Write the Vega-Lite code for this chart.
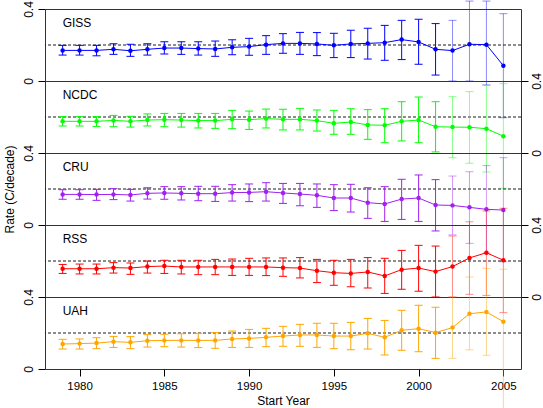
{
  "$schema": "https://vega.github.io/schema/vega-lite/v6.json",
  "padding": {"left": 2, "top": 0, "right": 0, "bottom": 0},
  "autosize": {"type": "pad"},
  "background": "white",
  "spacing": 0,
  "bounds": "flush",
  "config": {
    "view": {"stroke": "#333333", "strokeWidth": 1},
    "axis": {"labelFont": "Liberation Sans", "labelFontSize": 12, "labelColor": "black", "tickColor": "black", "titleFont": "Liberation Sans", "titleFontSize": 12, "titleFontWeight": "normal", "titleColor": "black", "grid": false, "domain": false, "tickSize": 7, "labelFlush": false, "labelOverlap": false},
    "text": {"font": "Liberation Sans"}
  },
  "datasets": {
    "temps": [
      {"series":"GISS","year":1979,"rate":0.170,"lo":0.144,"hi":0.198},
      {"series":"GISS","year":1980,"rate":0.170,"lo":0.144,"hi":0.198},
      {"series":"GISS","year":1981,"rate":0.170,"lo":0.140,"hi":0.198},
      {"series":"GISS","year":1982,"rate":0.176,"lo":0.148,"hi":0.207},
      {"series":"GISS","year":1983,"rate":0.168,"lo":0.137,"hi":0.204},
      {"series":"GISS","year":1984,"rate":0.176,"lo":0.144,"hi":0.207},
      {"series":"GISS","year":1985,"rate":0.183,"lo":0.150,"hi":0.218},
      {"series":"GISS","year":1986,"rate":0.183,"lo":0.148,"hi":0.218},
      {"series":"GISS","year":1987,"rate":0.180,"lo":0.144,"hi":0.218},
      {"series":"GISS","year":1988,"rate":0.178,"lo":0.137,"hi":0.222},
      {"series":"GISS","year":1989,"rate":0.187,"lo":0.146,"hi":0.229},
      {"series":"GISS","year":1990,"rate":0.191,"lo":0.143,"hi":0.237},
      {"series":"GISS","year":1991,"rate":0.202,"lo":0.148,"hi":0.252},
      {"series":"GISS","year":1992,"rate":0.209,"lo":0.154,"hi":0.263},
      {"series":"GISS","year":1993,"rate":0.209,"lo":0.148,"hi":0.270},
      {"series":"GISS","year":1994,"rate":0.206,"lo":0.141,"hi":0.269},
      {"series":"GISS","year":1995,"rate":0.198,"lo":0.130,"hi":0.265},
      {"series":"GISS","year":1996,"rate":0.206,"lo":0.130,"hi":0.282},
      {"series":"GISS","year":1997,"rate":0.209,"lo":0.122,"hi":0.293},
      {"series":"GISS","year":1998,"rate":0.213,"lo":0.115,"hi":0.309},
      {"series":"GISS","year":1999,"rate":0.230,"lo":0.119,"hi":0.337},
      {"series":"GISS","year":2000,"rate":0.217,"lo":0.093,"hi":0.343},
      {"series":"GISS","year":2001,"rate":0.176,"lo":0.033,"hi":0.319},
      {"series":"GISS","year":2002,"rate":0.169,"lo":0.000,"hi":0.337},
      {"series":"GISS","year":2003,"rate":0.204,"lo":0.000,"hi":0.444},
      {"series":"GISS","year":2004,"rate":0.202,"lo":-0.022,"hi":0.444},
      {"series":"GISS","year":2005,"rate":0.085,"lo":-0.204,"hi":0.374},
      {"series":"NCDC","year":1979,"rate":0.176,"lo":0.150,"hi":0.202},
      {"series":"NCDC","year":1980,"rate":0.176,"lo":0.150,"hi":0.202},
      {"series":"NCDC","year":1981,"rate":0.176,"lo":0.148,"hi":0.202},
      {"series":"NCDC","year":1982,"rate":0.181,"lo":0.146,"hi":0.209},
      {"series":"NCDC","year":1983,"rate":0.176,"lo":0.144,"hi":0.204},
      {"series":"NCDC","year":1984,"rate":0.183,"lo":0.150,"hi":0.217},
      {"series":"NCDC","year":1985,"rate":0.185,"lo":0.146,"hi":0.220},
      {"series":"NCDC","year":1986,"rate":0.183,"lo":0.144,"hi":0.220},
      {"series":"NCDC","year":1987,"rate":0.180,"lo":0.139,"hi":0.220},
      {"series":"NCDC","year":1988,"rate":0.180,"lo":0.137,"hi":0.220},
      {"series":"NCDC","year":1989,"rate":0.187,"lo":0.135,"hi":0.237},
      {"series":"NCDC","year":1990,"rate":0.185,"lo":0.131,"hi":0.233},
      {"series":"NCDC","year":1991,"rate":0.191,"lo":0.139,"hi":0.244},
      {"series":"NCDC","year":1992,"rate":0.187,"lo":0.128,"hi":0.243},
      {"series":"NCDC","year":1993,"rate":0.187,"lo":0.128,"hi":0.248},
      {"series":"NCDC","year":1994,"rate":0.180,"lo":0.122,"hi":0.239},
      {"series":"NCDC","year":1995,"rate":0.165,"lo":0.104,"hi":0.237},
      {"series":"NCDC","year":1996,"rate":0.172,"lo":0.104,"hi":0.246},
      {"series":"NCDC","year":1997,"rate":0.156,"lo":0.076,"hi":0.241},
      {"series":"NCDC","year":1998,"rate":0.154,"lo":0.057,"hi":0.246},
      {"series":"NCDC","year":1999,"rate":0.176,"lo":0.067,"hi":0.285},
      {"series":"NCDC","year":2000,"rate":0.183,"lo":0.057,"hi":0.311},
      {"series":"NCDC","year":2001,"rate":0.146,"lo":0.006,"hi":0.285},
      {"series":"NCDC","year":2002,"rate":0.144,"lo":-0.026,"hi":0.313},
      {"series":"NCDC","year":2003,"rate":0.143,"lo":-0.057,"hi":0.341},
      {"series":"NCDC","year":2004,"rate":0.135,"lo":-0.106,"hi":0.376},
      {"series":"NCDC","year":2005,"rate":0.093,"lo":-0.196,"hi":0.385},
      {"series":"CRU","year":1979,"rate":0.170,"lo":0.143,"hi":0.196},
      {"series":"CRU","year":1980,"rate":0.170,"lo":0.143,"hi":0.196},
      {"series":"CRU","year":1981,"rate":0.169,"lo":0.137,"hi":0.198},
      {"series":"CRU","year":1982,"rate":0.170,"lo":0.141,"hi":0.202},
      {"series":"CRU","year":1983,"rate":0.167,"lo":0.133,"hi":0.198},
      {"series":"CRU","year":1984,"rate":0.176,"lo":0.144,"hi":0.207},
      {"series":"CRU","year":1985,"rate":0.178,"lo":0.143,"hi":0.213},
      {"series":"CRU","year":1986,"rate":0.176,"lo":0.139,"hi":0.213},
      {"series":"CRU","year":1987,"rate":0.174,"lo":0.135,"hi":0.215},
      {"series":"CRU","year":1988,"rate":0.174,"lo":0.131,"hi":0.215},
      {"series":"CRU","year":1989,"rate":0.180,"lo":0.133,"hi":0.224},
      {"series":"CRU","year":1990,"rate":0.181,"lo":0.130,"hi":0.228},
      {"series":"CRU","year":1991,"rate":0.185,"lo":0.133,"hi":0.235},
      {"series":"CRU","year":1992,"rate":0.178,"lo":0.120,"hi":0.231},
      {"series":"CRU","year":1993,"rate":0.172,"lo":0.107,"hi":0.231},
      {"series":"CRU","year":1994,"rate":0.165,"lo":0.098,"hi":0.228},
      {"series":"CRU","year":1995,"rate":0.150,"lo":0.080,"hi":0.224},
      {"series":"CRU","year":1996,"rate":0.150,"lo":0.072,"hi":0.226},
      {"series":"CRU","year":1997,"rate":0.124,"lo":0.037,"hi":0.207},
      {"series":"CRU","year":1998,"rate":0.117,"lo":0.020,"hi":0.213},
      {"series":"CRU","year":1999,"rate":0.144,"lo":0.031,"hi":0.254},
      {"series":"CRU","year":2000,"rate":0.150,"lo":0.020,"hi":0.278},
      {"series":"CRU","year":2001,"rate":0.111,"lo":-0.033,"hi":0.252},
      {"series":"CRU","year":2002,"rate":0.109,"lo":-0.055,"hi":0.272},
      {"series":"CRU","year":2003,"rate":0.098,"lo":-0.102,"hi":0.296},
      {"series":"CRU","year":2004,"rate":0.087,"lo":-0.156,"hi":0.330},
      {"series":"CRU","year":2005,"rate":0.083,"lo":-0.204,"hi":0.374},
      {"series":"RSS","year":1979,"rate":0.157,"lo":0.131,"hi":0.181},
      {"series":"RSS","year":1980,"rate":0.157,"lo":0.128,"hi":0.183},
      {"series":"RSS","year":1981,"rate":0.157,"lo":0.128,"hi":0.183},
      {"series":"RSS","year":1982,"rate":0.163,"lo":0.133,"hi":0.191},
      {"series":"RSS","year":1983,"rate":0.161,"lo":0.126,"hi":0.189},
      {"series":"RSS","year":1984,"rate":0.169,"lo":0.133,"hi":0.200},
      {"series":"RSS","year":1985,"rate":0.172,"lo":0.131,"hi":0.204},
      {"series":"RSS","year":1986,"rate":0.167,"lo":0.128,"hi":0.204},
      {"series":"RSS","year":1987,"rate":0.167,"lo":0.124,"hi":0.204},
      {"series":"RSS","year":1988,"rate":0.167,"lo":0.124,"hi":0.209},
      {"series":"RSS","year":1989,"rate":0.167,"lo":0.120,"hi":0.211},
      {"series":"RSS","year":1990,"rate":0.167,"lo":0.120,"hi":0.215},
      {"series":"RSS","year":1991,"rate":0.167,"lo":0.119,"hi":0.217},
      {"series":"RSS","year":1992,"rate":0.163,"lo":0.115,"hi":0.217},
      {"series":"RSS","year":1993,"rate":0.161,"lo":0.106,"hi":0.219},
      {"series":"RSS","year":1994,"rate":0.146,"lo":0.080,"hi":0.209},
      {"series":"RSS","year":1995,"rate":0.135,"lo":0.065,"hi":0.204},
      {"series":"RSS","year":1996,"rate":0.131,"lo":0.057,"hi":0.209},
      {"series":"RSS","year":1997,"rate":0.139,"lo":0.050,"hi":0.219},
      {"series":"RSS","year":1998,"rate":0.117,"lo":0.020,"hi":0.215},
      {"series":"RSS","year":1999,"rate":0.152,"lo":0.043,"hi":0.259},
      {"series":"RSS","year":2000,"rate":0.161,"lo":0.032,"hi":0.287},
      {"series":"RSS","year":2001,"rate":0.141,"lo":0.000,"hi":0.283},
      {"series":"RSS","year":2002,"rate":0.169,"lo":0.000,"hi":0.339},
      {"series":"RSS","year":2003,"rate":0.217,"lo":0.015,"hi":0.418},
      {"series":"RSS","year":2004,"rate":0.246,"lo":0.009,"hi":0.478},
      {"series":"RSS","year":2005,"rate":0.204,"lo":-0.087,"hi":0.493},
      {"series":"UAH","year":1979,"rate":0.139,"lo":0.111,"hi":0.165},
      {"series":"UAH","year":1980,"rate":0.141,"lo":0.111,"hi":0.167},
      {"series":"UAH","year":1981,"rate":0.144,"lo":0.113,"hi":0.174},
      {"series":"UAH","year":1982,"rate":0.152,"lo":0.120,"hi":0.181},
      {"series":"UAH","year":1983,"rate":0.148,"lo":0.113,"hi":0.180},
      {"series":"UAH","year":1984,"rate":0.157,"lo":0.122,"hi":0.191},
      {"series":"UAH","year":1985,"rate":0.159,"lo":0.124,"hi":0.193},
      {"series":"UAH","year":1986,"rate":0.159,"lo":0.122,"hi":0.196},
      {"series":"UAH","year":1987,"rate":0.159,"lo":0.119,"hi":0.198},
      {"series":"UAH","year":1988,"rate":0.159,"lo":0.115,"hi":0.202},
      {"series":"UAH","year":1989,"rate":0.167,"lo":0.120,"hi":0.211},
      {"series":"UAH","year":1990,"rate":0.170,"lo":0.120,"hi":0.220},
      {"series":"UAH","year":1991,"rate":0.176,"lo":0.124,"hi":0.226},
      {"series":"UAH","year":1992,"rate":0.183,"lo":0.126,"hi":0.237},
      {"series":"UAH","year":1993,"rate":0.189,"lo":0.126,"hi":0.248},
      {"series":"UAH","year":1994,"rate":0.189,"lo":0.120,"hi":0.254},
      {"series":"UAH","year":1995,"rate":0.183,"lo":0.113,"hi":0.254},
      {"series":"UAH","year":1996,"rate":0.183,"lo":0.107,"hi":0.259},
      {"series":"UAH","year":1997,"rate":0.198,"lo":0.111,"hi":0.281},
      {"series":"UAH","year":1998,"rate":0.176,"lo":0.078,"hi":0.270},
      {"series":"UAH","year":1999,"rate":0.215,"lo":0.104,"hi":0.326},
      {"series":"UAH","year":2000,"rate":0.224,"lo":0.096,"hi":0.354},
      {"series":"UAH","year":2001,"rate":0.202,"lo":0.059,"hi":0.343},
      {"series":"UAH","year":2002,"rate":0.230,"lo":0.059,"hi":0.400},
      {"series":"UAH","year":2003,"rate":0.307,"lo":0.106,"hi":0.511},
      {"series":"UAH","year":2004,"rate":0.317,"lo":0.076,"hi":0.559},
      {"series":"UAH","year":2005,"rate":0.263,"lo":-0.222,"hi":0.554}
    ]
  },
  "vconcat": [
    {
      "width": 476, "height": 72,
      "data": {"name": "temps"},
      "transform": [{"filter": "datum.series == 'GISS'"}],
      "layer": [
        {"data": {"values": [{"reference": 0.2}]}, "mark": {"type": "rule", "strokeDash": [3, 2], "color": "black", "strokeWidth": 0.9}, "encoding": {"y": {"field": "reference", "type": "quantitative", "scale": {"domain": [0, 0.4], "nice": false, "zero": false}, "axis": {"orient": "left", "values": [0, 0.1, 0.2, 0.3, 0.4], "labelExpr": "datum.value == 0.1 || datum.value == 0.3 ? '' : format(datum.value, '~g')", "labelAngle": -90, "labelAlign": "center", "labelBaseline": "bottom", "labelPadding": 3, "title": null}}}},
        {"mark": {"type": "rule", "color": "#0000FF", "strokeWidth": 1}, "encoding": {"x": {"field": "year", "type": "quantitative", "scale": {"domain": [1977.96, 2006.04], "nice": false, "zero": false}, "axis": null}, "y": {"field": "lo", "type": "quantitative"}, "y2": {"field": "hi"}, "opacity": {"condition": {"test": "datum.year >= 2002", "value": 0.45}, "value": 1}}},
        {"mark": {"type": "tick", "orient": "horizontal", "size": 8, "thickness": 1, "color": "#0000FF"}, "encoding": {"x": {"field": "year", "type": "quantitative"}, "y": {"field": "lo", "type": "quantitative"}, "opacity": {"condition": {"test": "datum.year >= 2002", "value": 0.45}, "value": 1}}},
        {"mark": {"type": "tick", "orient": "horizontal", "size": 8, "thickness": 1, "color": "#0000FF"}, "encoding": {"x": {"field": "year", "type": "quantitative"}, "y": {"field": "hi", "type": "quantitative"}, "opacity": {"condition": {"test": "datum.year >= 2002", "value": 0.45}, "value": 1}}},
        {"mark": {"type": "line", "color": "#0000FF", "strokeWidth": 1}, "encoding": {"x": {"field": "year", "type": "quantitative"}, "y": {"field": "rate", "type": "quantitative"}}},
        {"mark": {"type": "circle", "color": "#0000FF", "size": 20, "opacity": 1}, "encoding": {"x": {"field": "year", "type": "quantitative"}, "y": {"field": "rate", "type": "quantitative"}}},
        {"data": {"values": [{"name": "GISS"}]}, "mark": {"type": "text", "align": "left", "baseline": "middle", "fontSize": 12, "color": "black"}, "encoding": {"x": {"datum": 1979}, "y": {"datum": 0.32}, "text": {"field": "name"}}}
      ]
    },
    {
      "width": 476, "height": 72,
      "data": {"name": "temps"},
      "transform": [{"filter": "datum.series == 'NCDC'"}],
      "layer": [
        {"data": {"values": [{"reference": 0.2}]}, "mark": {"type": "rule", "strokeDash": [3, 2], "color": "black", "strokeWidth": 0.9}, "encoding": {"y": {"field": "reference", "type": "quantitative", "scale": {"domain": [0, 0.4], "nice": false, "zero": false}, "axis": {"orient": "right", "values": [0, 0.1, 0.2, 0.3, 0.4], "labelExpr": "datum.value == 0.1 || datum.value == 0.3 ? '' : format(datum.value, '~g')", "labelAngle": -90, "labelAlign": "center", "labelBaseline": "top", "labelPadding": 3, "title": null}}}},
        {"mark": {"type": "rule", "color": "#00FF00", "strokeWidth": 1}, "encoding": {"x": {"field": "year", "type": "quantitative", "scale": {"domain": [1977.96, 2006.04], "nice": false, "zero": false}, "axis": null}, "y": {"field": "lo", "type": "quantitative"}, "y2": {"field": "hi"}, "opacity": {"condition": {"test": "datum.year >= 2002", "value": 0.45}, "value": 1}}},
        {"mark": {"type": "tick", "orient": "horizontal", "size": 8, "thickness": 1, "color": "#00FF00"}, "encoding": {"x": {"field": "year", "type": "quantitative"}, "y": {"field": "lo", "type": "quantitative"}, "opacity": {"condition": {"test": "datum.year >= 2002", "value": 0.45}, "value": 1}}},
        {"mark": {"type": "tick", "orient": "horizontal", "size": 8, "thickness": 1, "color": "#00FF00"}, "encoding": {"x": {"field": "year", "type": "quantitative"}, "y": {"field": "hi", "type": "quantitative"}, "opacity": {"condition": {"test": "datum.year >= 2002", "value": 0.45}, "value": 1}}},
        {"mark": {"type": "line", "color": "#00FF00", "strokeWidth": 1}, "encoding": {"x": {"field": "year", "type": "quantitative"}, "y": {"field": "rate", "type": "quantitative"}}},
        {"mark": {"type": "circle", "color": "#00FF00", "size": 20, "opacity": 1}, "encoding": {"x": {"field": "year", "type": "quantitative"}, "y": {"field": "rate", "type": "quantitative"}}},
        {"data": {"values": [{"name": "NCDC"}]}, "mark": {"type": "text", "align": "left", "baseline": "middle", "fontSize": 12, "color": "black"}, "encoding": {"x": {"datum": 1979}, "y": {"datum": 0.32}, "text": {"field": "name"}}}
      ]
    },
    {
      "width": 476, "height": 72,
      "data": {"name": "temps"},
      "transform": [{"filter": "datum.series == 'CRU'"}],
      "layer": [
        {"data": {"values": [{"reference": 0.2}]}, "mark": {"type": "rule", "strokeDash": [3, 2], "color": "black", "strokeWidth": 0.9}, "encoding": {"y": {"field": "reference", "type": "quantitative", "scale": {"domain": [0, 0.4], "nice": false, "zero": false}, "axis": {"orient": "left", "values": [0, 0.1, 0.2, 0.3, 0.4], "labelExpr": "datum.value == 0.1 || datum.value == 0.3 ? '' : format(datum.value, '~g')", "labelAngle": -90, "labelAlign": "center", "labelBaseline": "bottom", "labelPadding": 3, "title": "Rate (C/decade)", "titlePadding": 6}}}},
        {"mark": {"type": "rule", "color": "#A020F0", "strokeWidth": 1}, "encoding": {"x": {"field": "year", "type": "quantitative", "scale": {"domain": [1977.96, 2006.04], "nice": false, "zero": false}, "axis": null}, "y": {"field": "lo", "type": "quantitative"}, "y2": {"field": "hi"}, "opacity": {"condition": {"test": "datum.year >= 2002", "value": 0.45}, "value": 1}}},
        {"mark": {"type": "tick", "orient": "horizontal", "size": 8, "thickness": 1, "color": "#A020F0"}, "encoding": {"x": {"field": "year", "type": "quantitative"}, "y": {"field": "lo", "type": "quantitative"}, "opacity": {"condition": {"test": "datum.year >= 2002", "value": 0.45}, "value": 1}}},
        {"mark": {"type": "tick", "orient": "horizontal", "size": 8, "thickness": 1, "color": "#A020F0"}, "encoding": {"x": {"field": "year", "type": "quantitative"}, "y": {"field": "hi", "type": "quantitative"}, "opacity": {"condition": {"test": "datum.year >= 2002", "value": 0.45}, "value": 1}}},
        {"mark": {"type": "line", "color": "#A020F0", "strokeWidth": 1}, "encoding": {"x": {"field": "year", "type": "quantitative"}, "y": {"field": "rate", "type": "quantitative"}}},
        {"mark": {"type": "circle", "color": "#A020F0", "size": 20, "opacity": 1}, "encoding": {"x": {"field": "year", "type": "quantitative"}, "y": {"field": "rate", "type": "quantitative"}}},
        {"data": {"values": [{"name": "CRU"}]}, "mark": {"type": "text", "align": "left", "baseline": "middle", "fontSize": 12, "color": "black"}, "encoding": {"x": {"datum": 1979}, "y": {"datum": 0.32}, "text": {"field": "name"}}}
      ]
    },
    {
      "width": 476, "height": 72,
      "data": {"name": "temps"},
      "transform": [{"filter": "datum.series == 'RSS'"}],
      "layer": [
        {"data": {"values": [{"reference": 0.2}]}, "mark": {"type": "rule", "strokeDash": [3, 2], "color": "black", "strokeWidth": 0.9}, "encoding": {"y": {"field": "reference", "type": "quantitative", "scale": {"domain": [0, 0.4], "nice": false, "zero": false}, "axis": {"orient": "right", "values": [0, 0.1, 0.2, 0.3, 0.4], "labelExpr": "datum.value == 0.1 || datum.value == 0.3 ? '' : format(datum.value, '~g')", "labelAngle": -90, "labelAlign": "center", "labelBaseline": "top", "labelPadding": 3, "title": null}}}},
        {"mark": {"type": "rule", "color": "#FF0000", "strokeWidth": 1}, "encoding": {"x": {"field": "year", "type": "quantitative", "scale": {"domain": [1977.96, 2006.04], "nice": false, "zero": false}, "axis": null}, "y": {"field": "lo", "type": "quantitative"}, "y2": {"field": "hi"}, "opacity": {"condition": {"test": "datum.year >= 2002", "value": 0.45}, "value": 1}}},
        {"mark": {"type": "tick", "orient": "horizontal", "size": 8, "thickness": 1, "color": "#FF0000"}, "encoding": {"x": {"field": "year", "type": "quantitative"}, "y": {"field": "lo", "type": "quantitative"}, "opacity": {"condition": {"test": "datum.year >= 2002", "value": 0.45}, "value": 1}}},
        {"mark": {"type": "tick", "orient": "horizontal", "size": 8, "thickness": 1, "color": "#FF0000"}, "encoding": {"x": {"field": "year", "type": "quantitative"}, "y": {"field": "hi", "type": "quantitative"}, "opacity": {"condition": {"test": "datum.year >= 2002", "value": 0.45}, "value": 1}}},
        {"mark": {"type": "line", "color": "#FF0000", "strokeWidth": 1}, "encoding": {"x": {"field": "year", "type": "quantitative"}, "y": {"field": "rate", "type": "quantitative"}}},
        {"mark": {"type": "circle", "color": "#FF0000", "size": 20, "opacity": 1}, "encoding": {"x": {"field": "year", "type": "quantitative"}, "y": {"field": "rate", "type": "quantitative"}}},
        {"data": {"values": [{"name": "RSS"}]}, "mark": {"type": "text", "align": "left", "baseline": "middle", "fontSize": 12, "color": "black"}, "encoding": {"x": {"datum": 1979}, "y": {"datum": 0.32}, "text": {"field": "name"}}}
      ]
    },
    {
      "width": 476, "height": 72,
      "data": {"name": "temps"},
      "transform": [{"filter": "datum.series == 'UAH'"}],
      "layer": [
        {"data": {"values": [{"reference": 0.2}]}, "mark": {"type": "rule", "strokeDash": [3, 2], "color": "black", "strokeWidth": 0.9}, "encoding": {"y": {"field": "reference", "type": "quantitative", "scale": {"domain": [0, 0.4], "nice": false, "zero": false}, "axis": {"orient": "left", "values": [0, 0.1, 0.2, 0.3, 0.4], "labelExpr": "datum.value == 0.1 || datum.value == 0.3 ? '' : format(datum.value, '~g')", "labelAngle": -90, "labelAlign": "center", "labelBaseline": "bottom", "labelPadding": 3, "title": null}}}},
        {"mark": {"type": "rule", "color": "#FFA500", "strokeWidth": 1}, "encoding": {"x": {"field": "year", "type": "quantitative", "scale": {"domain": [1977.96, 2006.04], "nice": false, "zero": false}, "axis": {"values": [1980, 1985, 1990, 1995, 2000, 2005], "format": "d", "labelAngle": 0, "labelFontSize": 11.5, "labelPadding": 4, "title": "Start Year", "titlePadding": 4}}, "y": {"field": "lo", "type": "quantitative"}, "y2": {"field": "hi"}, "opacity": {"condition": {"test": "datum.year >= 2002", "value": 0.45}, "value": 1}}},
        {"mark": {"type": "tick", "orient": "horizontal", "size": 8, "thickness": 1, "color": "#FFA500"}, "encoding": {"x": {"field": "year", "type": "quantitative"}, "y": {"field": "lo", "type": "quantitative"}, "opacity": {"condition": {"test": "datum.year >= 2002", "value": 0.45}, "value": 1}}},
        {"mark": {"type": "tick", "orient": "horizontal", "size": 8, "thickness": 1, "color": "#FFA500"}, "encoding": {"x": {"field": "year", "type": "quantitative"}, "y": {"field": "hi", "type": "quantitative"}, "opacity": {"condition": {"test": "datum.year >= 2002", "value": 0.45}, "value": 1}}},
        {"mark": {"type": "line", "color": "#FFA500", "strokeWidth": 1}, "encoding": {"x": {"field": "year", "type": "quantitative"}, "y": {"field": "rate", "type": "quantitative"}}},
        {"mark": {"type": "circle", "color": "#FFA500", "size": 20, "opacity": 1}, "encoding": {"x": {"field": "year", "type": "quantitative"}, "y": {"field": "rate", "type": "quantitative"}}},
        {"data": {"values": [{"name": "UAH"}]}, "mark": {"type": "text", "align": "left", "baseline": "middle", "fontSize": 12, "color": "black"}, "encoding": {"x": {"datum": 1979}, "y": {"datum": 0.32}, "text": {"field": "name"}}}
      ]
    }
  ]
}
